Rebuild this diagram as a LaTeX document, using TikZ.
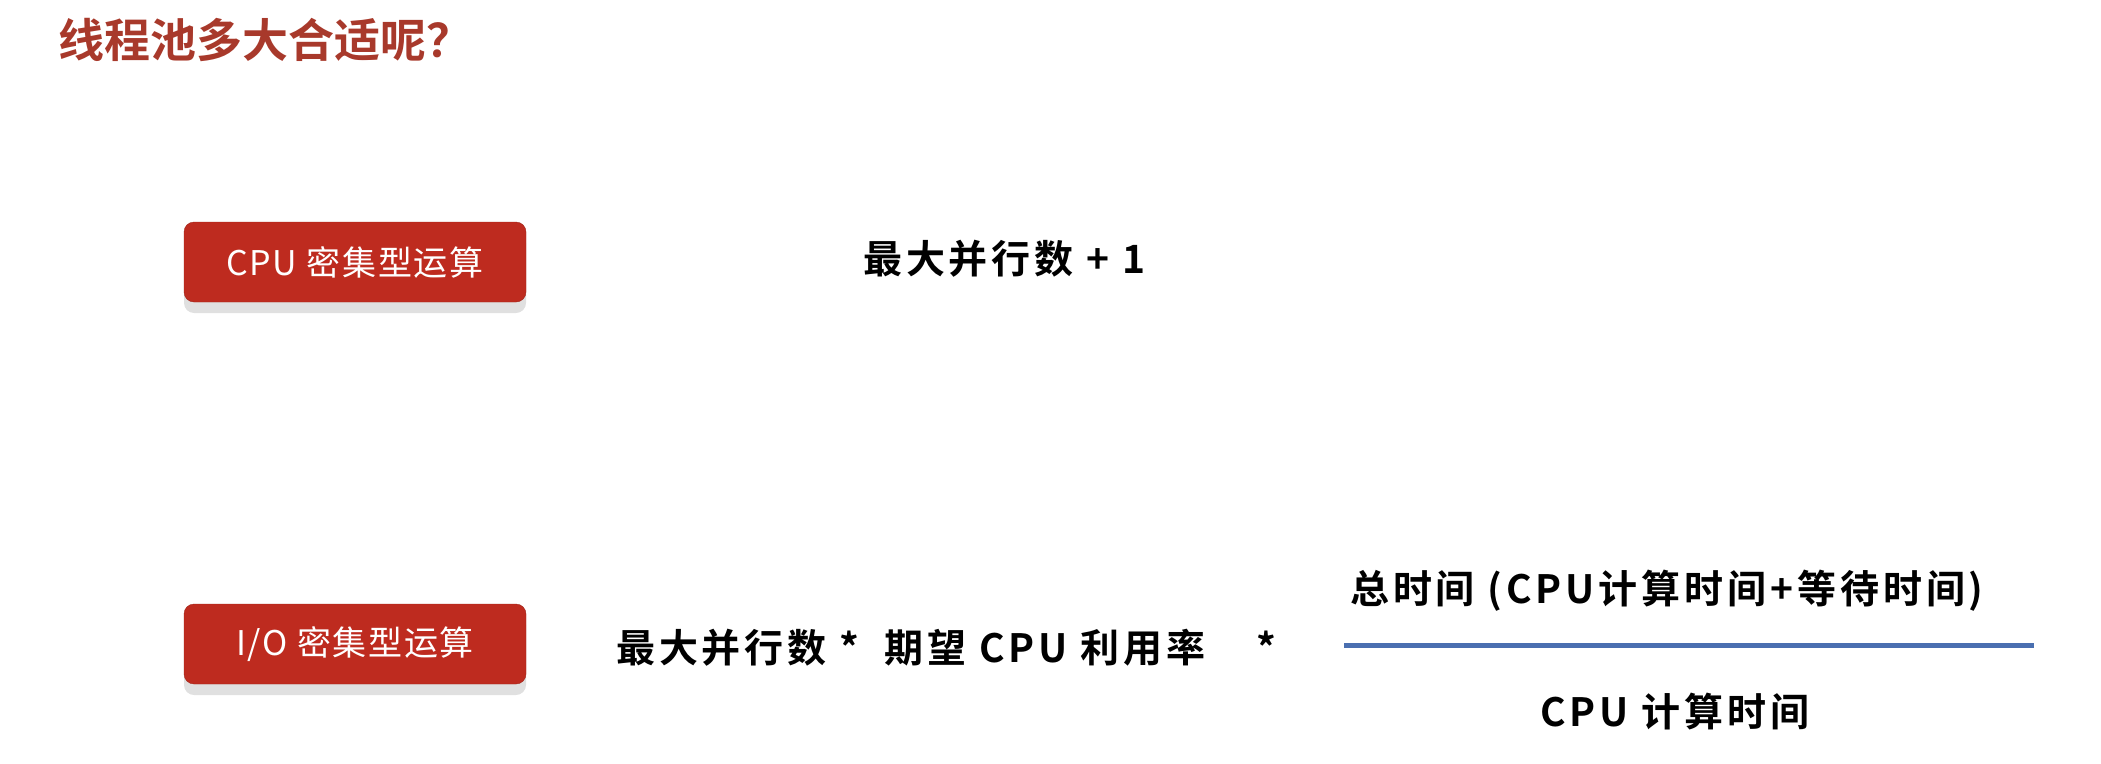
\documentclass[tikz,border=0pt]{standalone}
\usepackage{fontspec}
\usepackage{xcolor}
\usetikzlibrary{shadows}
\newfontfamily\cjk[LetterSpace=5]{Noto Sans CJK SC}
\newfontfamily\cjkbold{Noto Sans CJK SC Bold}
\newfontfamily\cjkwide[LetterSpace=10]{Noto Sans CJK SC Bold}
\definecolor{titlered}{HTML}{A8392B}
\definecolor{boxred}{HTML}{BE2B1F}
\definecolor{fracblue}{HTML}{4A6FB0}
\tikzset{
	opbox/.style={
			rectangle, rounded corners=10pt, fill=boxred, draw=boxred!85!black,
			minimum width=342pt, minimum height=80pt, inner sep=0pt,
			text=white, font=\cjk\fontsize{34}{40}\selectfont,
			drop shadow={shadow xshift=0pt, shadow yshift=-11pt, fill=black!12, opacity=1}
		},
	formula/.style={inner sep=0pt, font=\cjkwide\fontsize{39}{46}\selectfont}
}
\begin{document}
\begin{tikzpicture}[x=1pt,y=-1pt]
			\useasboundingbox (0,0) rectangle (2101,763);

			% Title
			\node[anchor=west, inner sep=0pt, text=titlered, font=\cjkbold\fontsize{46}{54}\selectfont] (title) at (58,40) {线程池多大合适呢？};

			% The two kinds of work
			\node[opbox] (cpubox) at (355,262) {CPU 密集型运算};
			\node[opbox] (iobox) at (355,644) {I/O 密集型运算};

			% Sizes
			\node[formula, anchor=west] (cpuformula) at (863,259) {最大并行数 + 1};
			\node[formula, anchor=west] (ioformula) at (616,648) {最大并行数 * \ 期望 CPU 利用率 \ \ \ *};

			% The fraction
			\coordinate (fracl) at (1344,645);
			\coordinate (fracr) at (2034,645);
			\draw[fracblue, line width=5pt] (fracl) -- (fracr);
			\node[formula, anchor=west] (num) at (1350,591) {总时间 (CPU计算时间+等待时间)};
			\node[formula] (den) at (1675,712) {CPU 计算时间};
		\end{tikzpicture}
\end{document}
